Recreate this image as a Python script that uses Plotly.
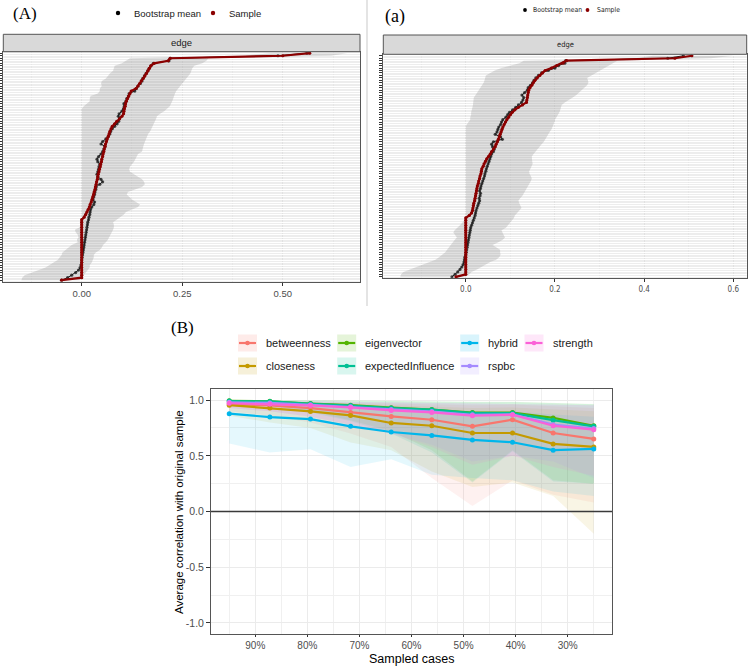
import plotly.graph_objects as go

W, H = 750, 667

# ---------------- data: panel (A) edge bootstrap ----------------
edge_rank = list(range(91))  # edges ordered by sample weight (bottom -> top)

A_sample = [
    -0.050, 0.000, 0.000, 0.000, 0.000, 0.000, 0.000, 0.000, 0.000, 0.000,
    0.000, 0.000, 0.000, 0.000, 0.000, 0.000, 0.000, 0.000, 0.000, 0.000,
    0.000, 0.000, 0.000, 0.000, 0.000, 0.006, 0.010, 0.013, 0.016, 0.019,
    0.021, 0.024, 0.026, 0.028, 0.030, 0.031, 0.033, 0.034, 0.036, 0.037,
    0.039, 0.040, 0.041, 0.043, 0.044, 0.046, 0.047, 0.049, 0.050, 0.052,
    0.053, 0.055, 0.056, 0.058, 0.059, 0.061, 0.063, 0.066, 0.068, 0.070,
    0.073, 0.076, 0.082, 0.087, 0.094, 0.100, 0.104, 0.105, 0.106, 0.108,
    0.109, 0.111, 0.114, 0.117, 0.120, 0.123, 0.135, 0.140, 0.144, 0.148,
    0.153, 0.157, 0.161, 0.165, 0.168, 0.172, 0.180, 0.215, 0.220, 0.500,
    0.567]
A_boot_mean = [
    -0.050, -0.035, -0.025, -0.015, -0.008, -0.004, -0.002, 0.000, 0.000, 0.001,
    0.002, 0.003, 0.004, 0.005, 0.006, 0.007, 0.008, 0.009, 0.010, 0.011,
    0.012, 0.013, 0.014, 0.015, 0.017, 0.018, 0.020, 0.021, 0.022, 0.025,
    0.030, 0.032, 0.028, 0.030, 0.032, 0.033, 0.035, 0.036, 0.045, 0.052,
    0.048, 0.040, 0.038, 0.040, 0.042, 0.043, 0.045, 0.040, 0.038, 0.042,
    0.048, 0.052, 0.055, 0.058, 0.048, 0.052, 0.060, 0.066, 0.070, 0.072,
    0.076, 0.082, 0.088, 0.092, 0.094, 0.091, 0.093, 0.100, 0.104, 0.106,
    0.105, 0.110, 0.112, 0.116, 0.118, 0.132, 0.136, 0.140, 0.146, 0.150,
    0.152, 0.156, 0.160, 0.164, 0.168, 0.172, 0.178, 0.217, 0.220, 0.488,
    0.560]
A_ci_lower = [
    -0.150, -0.148, -0.142, -0.125, -0.105, -0.090, -0.080, -0.068, -0.060, -0.055,
    -0.050, -0.048, -0.040, -0.030, -0.025, -0.010, -0.012, -0.008, -0.010, -0.015,
    -0.017, -0.005, 0.000, 0.000, 0.000, 0.000, 0.000, 0.000, 0.000, 0.000,
    0.000, 0.000, 0.000, 0.000, 0.000, 0.000, 0.000, 0.000, 0.000, 0.000,
    0.000, 0.000, 0.000, 0.000, 0.000, 0.000, 0.000, 0.000, 0.000, 0.000,
    0.000, 0.000, 0.000, 0.000, 0.000, 0.000, 0.000, 0.000, 0.000, 0.000,
    0.000, 0.000, 0.000, 0.000, 0.000, 0.000, 0.000, 0.000, 0.000, 0.005,
    0.012, 0.020, 0.020, 0.022, 0.040, 0.045, 0.045, 0.050, 0.048, 0.050,
    0.060, 0.065, 0.070, 0.078, 0.080, 0.082, 0.100, 0.110, 0.120, 0.400,
    0.470]
A_ci_upper = [
    -0.005, 0.000, 0.004, 0.010, 0.015, 0.020, 0.020, 0.025, 0.028, 0.030,
    0.030, 0.035, 0.045, 0.050, 0.053, 0.060, 0.065, 0.068, 0.070, 0.075,
    0.078, 0.080, 0.080, 0.078, 0.085, 0.095, 0.105, 0.110, 0.125, 0.140,
    0.145, 0.135, 0.125, 0.118, 0.112, 0.115, 0.130, 0.150, 0.157, 0.155,
    0.150, 0.140, 0.130, 0.120, 0.118, 0.120, 0.125, 0.130, 0.135, 0.137,
    0.140, 0.150, 0.152, 0.153, 0.155, 0.158, 0.160, 0.162, 0.165, 0.170,
    0.175, 0.177, 0.180, 0.182, 0.185, 0.187, 0.195, 0.205, 0.212, 0.219,
    0.222, 0.225, 0.228, 0.230, 0.232, 0.235, 0.240, 0.245, 0.248, 0.255,
    0.260, 0.265, 0.270, 0.273, 0.275, 0.280, 0.300, 0.310, 0.315, 0.620,
    0.660]
A_ticks = [0.0, 0.25, 0.5]
A_ticklabels = ["0.00", "0.25", "0.50"]

# ---------------- data: panel (a) edge bootstrap ----------------
a_sample = [
    -0.022, 0.000, 0.000, 0.000, 0.000, 0.000, 0.000, 0.000, 0.000, 0.000,
    0.000, 0.000, 0.000, 0.000, 0.000, 0.000, 0.000, 0.000, 0.000, 0.000,
    0.000, 0.000, 0.000, 0.000, 0.000, 0.008, 0.013, 0.015, 0.016, 0.017,
    0.018, 0.020, 0.021, 0.022, 0.023, 0.024, 0.025, 0.026, 0.028, 0.029,
    0.031, 0.032, 0.034, 0.035, 0.036, 0.039, 0.041, 0.044, 0.047, 0.051,
    0.055, 0.058, 0.062, 0.066, 0.068, 0.071, 0.073, 0.075, 0.077, 0.079,
    0.081, 0.083, 0.086, 0.089, 0.092, 0.096, 0.100, 0.104, 0.110, 0.118,
    0.127, 0.136, 0.137, 0.138, 0.139, 0.140, 0.141, 0.144, 0.148, 0.151,
    0.155, 0.160, 0.166, 0.172, 0.178, 0.192, 0.204, 0.218, 0.226, 0.469,
    0.507]
a_boot_mean = [
    -0.031, -0.024, -0.018, -0.013, -0.009, -0.006, -0.004, -0.003, -0.002, 0.000,
    0.001, 0.002, 0.003, 0.004, 0.005, 0.006, 0.007, 0.008, 0.009, 0.010,
    0.011, 0.013, 0.015, 0.017, 0.019, 0.021, 0.022, 0.023, 0.025, 0.027,
    0.029, 0.031, 0.030, 0.032, 0.033, 0.031, 0.033, 0.034, 0.036, 0.038,
    0.040, 0.042, 0.043, 0.045, 0.046, 0.048, 0.050, 0.052, 0.054, 0.056,
    0.058, 0.062, 0.064, 0.060, 0.058, 0.062, 0.082, 0.078, 0.066, 0.070,
    0.072, 0.074, 0.078, 0.080, 0.083, 0.090, 0.094, 0.098, 0.105, 0.112,
    0.118, 0.125, 0.128, 0.130, 0.126, 0.132, 0.138, 0.140, 0.145, 0.150,
    0.153, 0.157, 0.163, 0.170, 0.185, 0.200, 0.208, 0.222, 0.224, 0.453,
    0.488]
a_ci_lower = [
    -0.147, -0.145, -0.140, -0.125, -0.110, -0.095, -0.080, -0.068, -0.060, -0.052,
    -0.046, -0.042, -0.038, -0.035, -0.030, -0.025, -0.020, -0.024, -0.028, -0.025,
    -0.018, -0.013, -0.008, -0.004, 0.000, 0.000, 0.000, 0.000, 0.000, 0.000,
    0.000, 0.000, 0.000, 0.000, 0.000, 0.000, 0.000, 0.000, 0.000, 0.000,
    0.000, 0.000, 0.000, 0.000, 0.000, 0.000, 0.000, 0.000, 0.000, 0.000,
    0.000, 0.000, 0.000, 0.000, 0.000, 0.000, 0.000, 0.000, 0.000, 0.000,
    0.000, 0.000, 0.002, 0.006, 0.010, 0.010, 0.012, 0.012, 0.014, 0.015,
    0.016, 0.017, 0.017, 0.018, 0.022, 0.026, 0.030, 0.032, 0.036, 0.040,
    0.042, 0.043, 0.045, 0.055, 0.065, 0.080, 0.100, 0.120, 0.130, 0.380,
    0.420]
a_ci_upper = [
    0.000, 0.008, 0.013, 0.025, 0.035, 0.043, 0.055, 0.068, 0.075, 0.078,
    0.077, 0.077, 0.068, 0.060, 0.072, 0.082, 0.088, 0.085, 0.082, 0.080,
    0.090, 0.095, 0.100, 0.104, 0.108, 0.110, 0.115, 0.120, 0.125, 0.122,
    0.120, 0.118, 0.122, 0.127, 0.130, 0.134, 0.137, 0.140, 0.143, 0.146,
    0.148, 0.146, 0.143, 0.142, 0.145, 0.148, 0.150, 0.149, 0.148, 0.148,
    0.152, 0.156, 0.160, 0.165, 0.170, 0.175, 0.178, 0.182, 0.185, 0.188,
    0.192, 0.195, 0.197, 0.199, 0.200, 0.204, 0.207, 0.210, 0.212, 0.214,
    0.215, 0.222, 0.230, 0.240, 0.248, 0.255, 0.260, 0.266, 0.272, 0.275,
    0.274, 0.272, 0.280, 0.290, 0.300, 0.310, 0.320, 0.330, 0.340, 0.550,
    0.600]
a_ticks = [0.0, 0.2, 0.4, 0.6]
a_ticklabels = ["0.0", "0.2", "0.4", "0.6"]

# ---------------- data: panel (B) case-dropping stability ----------------
sampled_cases = [0.95, 0.872, 0.794, 0.717, 0.639, 0.561, 0.483, 0.406, 0.328, 0.25]
x_ticks = [0.9, 0.8, 0.7, 0.6, 0.5, 0.4, 0.3]
x_ticklabels = ["90%", "80%", "70%", "60%", "50%", "40%", "30%"]
y_ticks = [-1.0, -0.5, 0.0, 0.5, 1.0]
y_ticklabels = ["-1.0", "-0.5", "0.0", "0.5", "1.0"]

measures = ["betweenness", "closeness", "eigenvector", "expectedInfluence",
            "hybrid", "rspbc", "strength"]
colors = ["#F8766D", "#C49A00", "#53B400", "#00C094", "#00B6EB", "#A58AFF", "#FB61D7"]

betweenness = [0.965, 0.952, 0.929, 0.890, 0.854, 0.824, 0.765, 0.824, 0.705, 0.652]
closeness = [0.955, 0.929, 0.899, 0.863, 0.795, 0.770, 0.705, 0.705, 0.607, 0.580]
eigenvector = [0.994, 0.990, 0.970, 0.955, 0.932, 0.916, 0.888, 0.888, 0.840, 0.770]
expectedInfluence = [0.992, 0.988, 0.967, 0.952, 0.929, 0.914, 0.884, 0.884, 0.820, 0.765]
hybrid = [0.878, 0.848, 0.830, 0.765, 0.714, 0.683, 0.643, 0.622, 0.551, 0.562]
rspbc = [0.980, 0.975, 0.958, 0.940, 0.915, 0.898, 0.868, 0.872, 0.780, 0.745]
strength = [0.972, 0.964, 0.952, 0.934, 0.908, 0.890, 0.860, 0.869, 0.770, 0.735]

betweenness_lo = [0.90, 0.86, 0.80, 0.70, 0.58, 0.30, 0.05, 0.28, 0.15, 0.08]
betweenness_hi = [0.99, 0.985, 0.98, 0.975, 0.97, 0.965, 0.955, 0.96, 0.945, 0.93]
closeness_lo = [0.86, 0.80, 0.75, 0.62, 0.55, 0.36, 0.22, 0.26, 0.14, -0.20]
closeness_hi = [0.99, 0.985, 0.975, 0.965, 0.955, 0.945, 0.93, 0.935, 0.92, 0.90]
eigenvector_lo = [0.97, 0.95, 0.90, 0.82, 0.72, 0.55, 0.27, 0.55, 0.28, 0.25]
eigenvector_hi = [1.0, 0.999, 0.998, 0.996, 0.993, 0.99, 0.985, 0.985, 0.975, 0.965]
expectedInfluence_lo = [0.97, 0.95, 0.89, 0.81, 0.70, 0.53, 0.26, 0.54, 0.27, 0.25]
expectedInfluence_hi = [1.0, 0.999, 0.997, 0.995, 0.992, 0.99, 0.984, 0.984, 0.973, 0.962]
hybrid_lo = [0.61, 0.53, 0.56, 0.40, 0.47, 0.33, 0.30, 0.28, 0.18, 0.14]
hybrid_hi = [0.97, 0.96, 0.955, 0.94, 0.93, 0.91, 0.90, 0.90, 0.87, 0.85]
rspbc_lo = [0.93, 0.90, 0.85, 0.78, 0.70, 0.60, 0.45, 0.50, 0.45, 0.30]
rspbc_hi = [0.995, 0.993, 0.99, 0.985, 0.98, 0.975, 0.97, 0.97, 0.96, 0.955]
strength_lo = [0.93, 0.90, 0.85, 0.78, 0.70, 0.58, 0.42, 0.50, 0.40, 0.32]
strength_hi = [0.995, 0.993, 0.99, 0.985, 0.98, 0.975, 0.97, 0.97, 0.96, 0.955]

series_mean = [betweenness, closeness, eigenvector, expectedInfluence, hybrid, rspbc, strength]
series_lo = [betweenness_lo, closeness_lo, eigenvector_lo, expectedInfluence_lo,
             hybrid_lo, rspbc_lo, strength_lo]
series_hi = [betweenness_hi, closeness_hi, eigenvector_hi, expectedInfluence_hi,
             hybrid_hi, rspbc_hi, strength_hi]

# ---------------- helpers ----------------
SANS = "Liberation Sans, Arial, Helvetica, sans-serif"
NARROW = "Liberation Sans Narrow, Arial Narrow, DejaVu Sans Condensed, Liberation Sans, sans-serif"
SERIF = "Liberation Serif, Times New Roman, serif"


def px(x):
    return x / W


def py(y):
    return 1 - y / H


def rgba(hexc, a):
    h = hexc.lstrip("#")
    return "rgba(%d,%d,%d,%.3f)" % (int(h[0:2], 16), int(h[2:4], 16), int(h[4:6], 16), a)


fig = go.Figure()

# ---- top panels ----
for (xa, ya, samp, mean, lo, hi, msize) in [
    ("x", "y", A_sample, A_boot_mean, A_ci_lower, A_ci_upper, 3.2),
    ("x2", "y2", a_sample, a_boot_mean, a_ci_lower, a_ci_upper, 3.2),
]:
    fig.add_trace(go.Scatter(
        x=lo + hi[::-1], y=edge_rank + edge_rank[::-1], fill="toself",
        fillcolor="rgba(150,150,150,0.30)", line=dict(width=0), mode="lines",
        hoverinfo="skip", showlegend=False, xaxis=xa, yaxis=ya))
    fig.add_trace(go.Scatter(
        x=mean, y=edge_rank, mode="lines+markers",
        line=dict(color="#1a1a1a", width=1),
        marker=dict(size=msize, color="rgba(30,30,30,0.8)"),
        showlegend=False, xaxis=xa, yaxis=ya))
    fig.add_trace(go.Scatter(
        x=samp, y=edge_rank, mode="lines+markers",
        line=dict(color="#8B0000", width=2.2),
        marker=dict(size=msize, color="#8B0000"),
        showlegend=False, xaxis=xa, yaxis=ya))

# ---- bottom panel ----
for m, c, lo, hi in zip(measures, colors, series_lo, series_hi):
    fig.add_trace(go.Scatter(
        x=sampled_cases + sampled_cases[::-1], y=lo + hi[::-1], fill="toself",
        fillcolor=rgba(c, 0.10), line=dict(width=0), mode="lines",
        hoverinfo="skip", showlegend=False, xaxis="x3", yaxis="y3"))
for m, c, ys in zip(measures, colors, series_mean):
    fig.add_trace(go.Scatter(
        x=sampled_cases, y=ys, mode="lines+markers", name=m,
        line=dict(color=c, width=2.2), marker=dict(size=5, color=c),
        showlegend=False, xaxis="x3", yaxis="y3"))

shapes = []
annotations = []

# panel backgrounds (top)
for xa, ya in [("x", "y"), ("x2", "y2")]:
    shapes.append(dict(type="rect", xref=xa + " domain", yref=ya + " domain",
                       x0=0, x1=1, y0=0, y1=1, fillcolor="#EDEDED",
                       line=dict(width=0), layer="below"))

# strips
for xa, top, bot, cx, fs, fam in [("x", 34.3, 51.7, 181.7, 9.5, SANS),
                                  ("x2", 35.0, 54.3, 565.0, 7.5, NARROW)]:
    shapes.append(dict(type="rect", xref=xa + " domain", yref="paper",
                       x0=0, x1=1, y0=py(bot), y1=py(top), fillcolor="#D9D9D9",
                       line=dict(color="#555555", width=1)))
    annotations.append(dict(text="edge", x=px(cx), y=py((top + bot) / 2),
                            xref="paper", yref="paper", showarrow=False,
                            font=dict(family=fam, size=fs, color="#1a1a1a"),
                            xanchor="center", yanchor="middle"))

# divider between the two top panels
shapes.append(dict(type="line", xref="paper", yref="paper", x0=px(367), x1=px(367),
                   y0=py(0), y1=py(306), line=dict(color="#E4E4E4", width=2)))

# zero line in bottom panel
shapes.append(dict(type="line", xref="x3 domain", yref="y3", x0=0, x1=1, y0=0, y1=0,
                   line=dict(color="#3a3a3a", width=1.3)))


def dot(cx, cy, r, color):
    shapes.append(dict(type="circle", xref="paper", yref="paper",
                       x0=px(cx - r), x1=px(cx + r), y0=py(cy + r), y1=py(cy - r),
                       fillcolor=color, line=dict(width=0)))


def label(text, x, y, size, family=SANS, color="#1a1a1a", xanchor="left", angle=0,
          yanchor="middle"):
    annotations.append(dict(text=text, x=px(x), y=py(y), xref="paper", yref="paper",
                            showarrow=False, textangle=angle,
                            font=dict(family=family, size=size, color=color),
                            xanchor=xanchor, yanchor=yanchor, borderpad=0))


# panel letters
label("(A)", 25, 13, 17, SERIF, "#000000", "center")
label("(a)", 395, 16.5, 18, SERIF, "#000000", "center")
label("(B)", 182, 327, 17, SERIF, "#000000", "center")

# top legends
dot(118, 13, 2.2, "#000000")
label("Bootstrap mean", 133, 13, 9.5)
dot(213, 13, 2.2, "#8B0000")
label("Sample", 228, 13, 9.5)

dot(525, 10, 1.9, "#000000")
label("Bootstrap mean", 532, 10, 6.8, NARROW)
dot(587.5, 10, 1.9, "#8B0000")
label("Sample", 596, 10, 6.8, NARROW)

# bottom legend (ggplot column-major order)
key_pos = {
    "betweenness": (247.5, 343), "closeness": (247.5, 366),
    "eigenvector": (346.7, 343), "expectedInfluence": (346.7, 366),
    "hybrid": (469.7, 343), "rspbc": (469.7, 366),
    "strength": (534.0, 343),
}
for m, c in zip(measures, colors):
    cx, cy = key_pos[m]
    shapes.append(dict(type="rect", xref="paper", yref="paper",
                       x0=px(cx - 9.5), x1=px(cx + 9.5), y0=py(cy + 8.5), y1=py(cy - 8.5),
                       fillcolor=rgba(c, 0.15), line=dict(width=0)))
    shapes.append(dict(type="line", xref="paper", yref="paper",
                       x0=px(cx - 8.5), x1=px(cx + 8.5), y0=py(cy), y1=py(cy),
                       line=dict(color=c, width=2.2)))
    dot(cx, cy, 2.3, c)
    label(m, cx + 17.5, cy, 11, SANS, "#1a1a1a")

# axis titles bottom
label("Sampled cases", 411, 666.5, 12.5, SANS, "#000000", "center", yanchor="bottom")
label("Average correlation with original sample", 179, 512, 11.5, SANS, "#000000",
      "center", -90)

top_x_common = dict(showgrid=True, gridcolor="#E1E1E1", gridwidth=1, zeroline=False,
                    showline=True, linecolor="#555555", linewidth=1, mirror=True,
                    ticks="outside", ticklen=3, tickcolor="#333333")
top_y_common = dict(range=[-0.6, 90.6], tickvals=edge_rank, showticklabels=False,
                    showgrid=True, gridcolor="#FFFFFF", gridwidth=1, zeroline=False,
                    showline=True, linecolor="#555555", linewidth=1, mirror=True,
                    ticks="outside", ticklen=3, tickwidth=0.6, tickcolor="#333333")

fig.update_layout(
    width=W, height=H, margin=dict(l=0, r=0, t=0, b=0),
    paper_bgcolor="white", plot_bgcolor="white", showlegend=False,
    xaxis=dict(domain=[px(3.3), px(360)], anchor="y", range=[-0.195, 0.692],
               tickvals=A_ticks, ticktext=A_ticklabels,
               tickfont=dict(family=SANS, size=9.5, color="#4D4D4D"),
               minor=dict(tickvals=[-0.125, 0.125, 0.375, 0.625], showgrid=True,
                          gridcolor="#E6E6E6", gridwidth=1, ticks=""),
               **top_x_common),
    yaxis=dict(domain=[py(281.7), py(51.7)], anchor="x", **top_y_common),
    xaxis2=dict(domain=[px(383.3), px(746.7)], anchor="y2", range=[-0.185, 0.63],
                tickvals=a_ticks, ticktext=a_ticklabels,
                tickfont=dict(family=NARROW, size=8, color="#4D4D4D"),
                minor=dict(tickvals=[-0.1, 0.1, 0.3, 0.5], showgrid=True,
                           gridcolor="#E6E6E6", gridwidth=1, ticks=""),
                **top_x_common),
    yaxis2=dict(domain=[py(278.3), py(54.3)], anchor="x2", **top_y_common),
    xaxis3=dict(domain=[px(211), px(612)], anchor="y3", range=[0.985, 0.215],
                tickvals=x_ticks, ticktext=x_ticklabels,
                tickfont=dict(family=SANS, size=10, color="#4D4D4D"),
                showgrid=True, gridcolor="#EBEBEB", gridwidth=1, zeroline=False,
                minor=dict(tickvals=[0.95, 0.85, 0.75, 0.65, 0.55, 0.45, 0.35, 0.25],
                           showgrid=True, gridcolor="#F0F0F0", gridwidth=0.6, ticks=""),
                showline=True, linecolor="#555555", linewidth=1, mirror=True,
                ticks="outside", ticklen=2, tickcolor="#333333"),
    yaxis3=dict(domain=[py(634), py(389)], anchor="x3", range=[-1.1, 1.1],
                tickvals=y_ticks, ticktext=y_ticklabels,
                tickfont=dict(family=SANS, size=10.5, color="#4D4D4D"),
                showgrid=True, gridcolor="#EBEBEB", gridwidth=1, zeroline=False,
                minor=dict(tickvals=[-0.75, -0.25, 0.25, 0.75],
                           showgrid=True, gridcolor="#F0F0F0", gridwidth=0.6, ticks=""),
                showline=True, linecolor="#555555", linewidth=1, mirror=True,
                ticks="outside", ticklen=4, tickcolor="#333333"),
    shapes=shapes, annotations=annotations,
)

fig.write_html("out.html")
